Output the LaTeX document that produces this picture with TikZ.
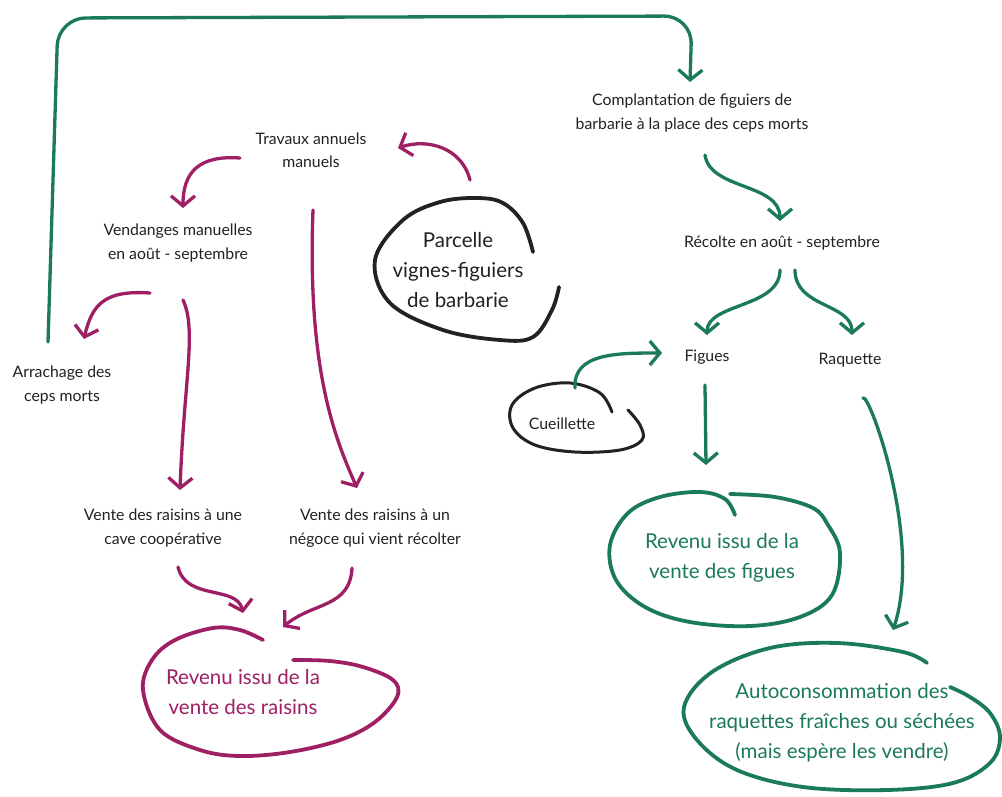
\documentclass[tikz,border=0pt]{standalone}
\usepackage{fontspec}
\setmainfont{Lato}
\usetikzlibrary{arrows.meta}
\definecolor{mag}{RGB}{158,31,99}
\definecolor{grn}{RGB}{27,122,87}
\definecolor{ink}{RGB}{34,34,34}
\begin{document}
\begin{tikzpicture}[x=1pt,y=-1pt,
  lbl/.style={align=center, text=ink, inner sep=0pt, font=\fontsize{15.8}{23.5}\selectfont},
  big/.style={align=center, inner sep=0pt, font=\fontsize{20.5}{30}\selectfont},
  tip/.style={-{Straight Barb[length=10pt,width=24pt]}},
  marr/.style={draw=mag, line width=3.3pt, line cap=round, line join=round, tip},
  garr/.style={draw=grn, line width=3.3pt, line cap=round, line join=round, tip},
  blob/.style={line width=3.8pt, line cap=round}]
\fill[white] (0,0) rectangle (1002,796);
\useasboundingbox (0,0) rectangle (1002,796);

% nodes
\node[lbl] (trav) at (311,150) {Travaux annuels\\manuels};
\node[lbl] (vend) at (178,243) {Vendanges manuelles\\en août - septembre};
\node[lbl] (arr) at (62,385) {Arrachage des\\ceps morts};
\node[lbl] (cave) at (163,528) {Vente des raisins à une\\cave coopérative};
\node[lbl] (neg) at (375,528) {Vente des raisins à un\\négoce qui vient récolter};
\node[big, text=mag] (revR) at (243,692) {Revenu issu de la\\vente des raisins};
\node[big, text=ink] (parc) at (458,270) {Parcelle\\vignes-figuiers\\de barbarie};
\node[lbl] (compl) at (692,113) {Complantation de figuiers de\\barbarie à la place des ceps morts};
\node[lbl] (rec) at (782,243) {Récolte en août - septembre};
\node[lbl] (fig) at (707,357) {Figues};
\node[lbl] (raq) at (850,360) {Raquette};
\node[lbl] (cueil) at (562,424) {Cueillette};
\node[big, text=grn] (revF) at (722,558) {Revenu issu de la\\vente des figues};
\node[big, text=grn] (auto) at (842,723) {Autoconsommation des\\raquettes fraîches ou séchées\\(mais espère les vendre)};

% blobs
\draw[blob, mag] plot[smooth, tension=0.6] coordinates {(263,640) (240,630) (213,628) (175,640) (152,660) (143,690) (160,730) (200,750) (240,756) (290,752) (340,740) (375,722) (397,697) (393,680) (363,667) (330,661) (293,660)};
\draw[blob, grn] plot[smooth, tension=0.6] coordinates {(735,515) (725,499) (700,492) (660,497) (628,513) (610,545) (616,580) (645,607) (690,622) (750,626) (800,617) (832,595) (840,553) (828,525) (813,508) (775,497) (730,494)};
\draw[blob, grn] plot[smooth, tension=0.6] coordinates {(927,663) (903,652) (837,643) (770,648) (712,672) (684,707) (697,740) (737,770) (803,787) (887,790) (953,783) (990,763) (1000,737) (990,713) (970,697) (950,687)};
\draw[blob, ink] plot[smooth, tension=0.6] coordinates {(533,252) (523,223) (503,203) (477,198) (440,202) (403,220) (375,260) (390,303) (443,330) (500,340) (533,337) (552,310) (559,287)};
\draw[blob, ink, line width=3pt] plot[smooth, tension=0.6] coordinates {(612,412) (600,393) (570,383) (535,388) (512,405) (513,428) (535,445) (575,452) (620,450) (642,440) (640,425) (628,410)};

% magenta connectors
\draw[marr] ([shift={(-71,8)}]trav.center) .. controls +(-42,-3) and +(0,-35) .. ([shift={(5,-35)}]vend.center);
\draw[marr] ([shift={(-28,50)}]vend.center) .. controls +(-45,-3) and +(8,-35) .. ([shift={(22,-46)}]arr.center);
\draw[marr] ([shift={(5,57)}]vend.center) .. controls +(14,30) and +(4,-110) .. ([shift={(17,-38)}]cave.center);
\draw[marr] ([shift={(2,60)}]trav.center) .. controls +(-6,160) and +(-22,-50) .. ([shift={(-18,-40)}]neg.center);
\draw[marr] ([shift={(12,-90)}]parc.center) .. controls +(-8,-32) and +(30,-10) .. ([shift={(87,-2)}]trav.center);
\draw[marr] ([shift={(15,39)}]cave.center) .. controls +(8,34) and +(-6,-28) .. ([shift={(0,-79)}]revR.center);
\draw[marr] ([shift={(-23,40)}]neg.center) .. controls +(-2,40) and +(30,-25) .. ([shift={(40,-65)}]revR.center);

% green connectors
\draw[garr, rounded corners=28pt] ([shift={(-14,-43)}]arr.center) -- ++(10,-324) -- ++(634,-2) -- ([shift={(-2,-31)}]compl.center);
\draw[garr] ([shift={(13,42)}]compl.center) .. controls +(5,35) and +(0,-38) .. ([shift={(-2,-22)}]rec.center);
\draw[garr] ([shift={(-2,27)}]rec.center) .. controls +(0,38) and +(0,-32) .. ([shift={(0,-22)}]fig.center);
\draw[garr] ([shift={(13,27)}]rec.center) .. controls +(0,38) and +(0,-32) .. ([shift={(2,-25)}]raq.center);
\draw[garr] ([shift={(13,-36)}]cueil.center) .. controls +(-2,-35) and +(-45,0) .. ([shift={(-45,-4)}]fig.center);
\draw[garr] ([shift={(-2,28)}]fig.center) -- ([shift={(-16,-93)}]revF.center);
\draw[garr] ([shift={(13,38)}]raq.center) .. controls +(6,-6) and +(30,-90) .. ([shift={(51,-93)}]auto.center);
\end{tikzpicture}
\end{document}
